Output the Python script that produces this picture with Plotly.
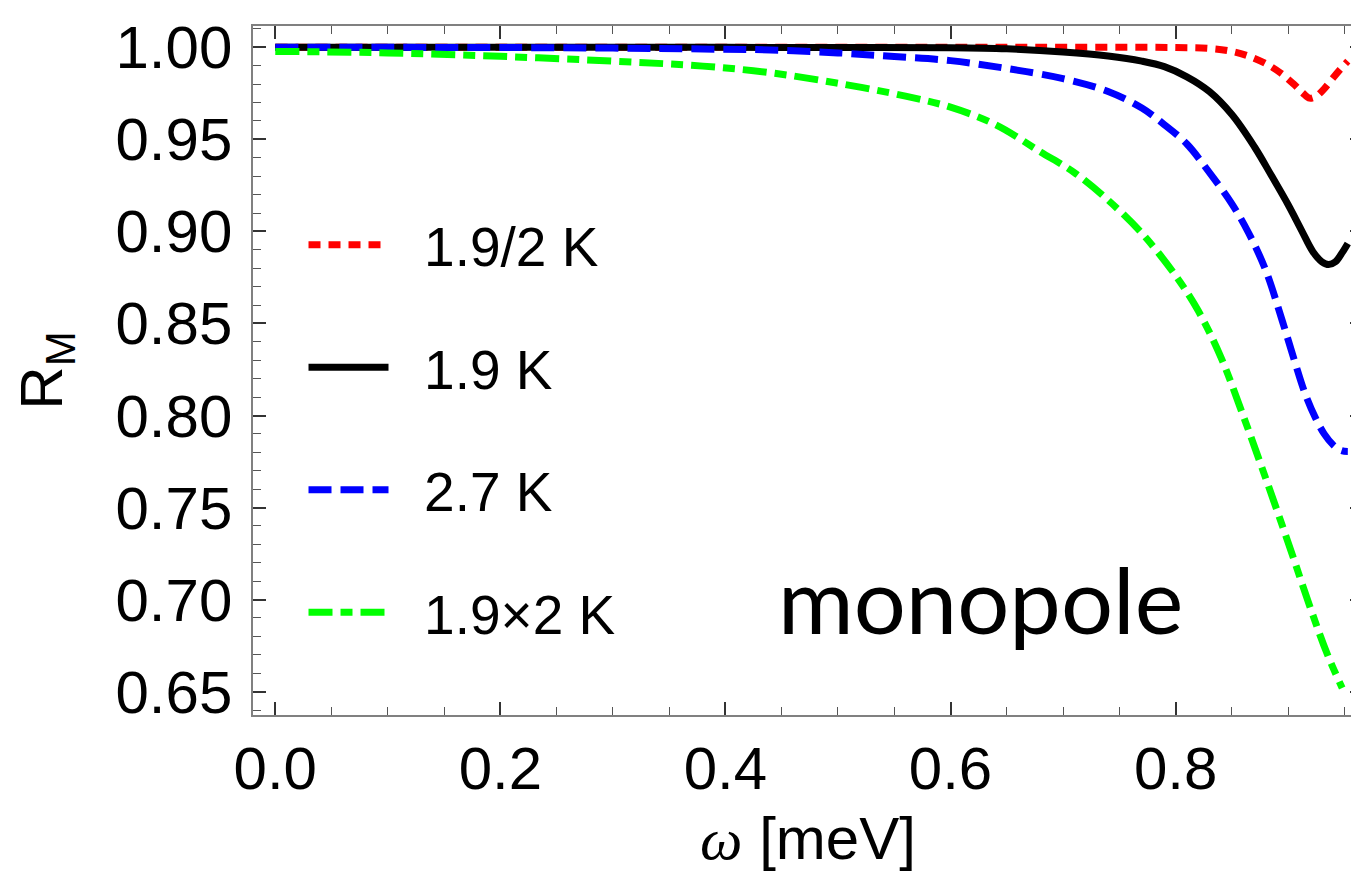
import plotly.graph_objects as go

# ---- data ----
red_x = [0.0, 0.2, 0.4, 0.6, 0.7, 0.8, 0.83, 0.85, 0.865, 0.88, 0.893, 0.905, 0.913, 0.919, 0.925, 0.932, 0.94, 0.947, 0.953]
red_y = [1.0, 1.0, 1.0, 1.0, 1.0, 0.9999, 0.9994, 0.9978, 0.9952, 0.9912, 0.9862, 0.9800, 0.9752, 0.9724, 0.9735,
         0.9775, 0.9835, 0.9885, 0.9925]

black_x = [0.0, 0.2, 0.4, 0.5, 0.6, 0.65, 0.7, 0.74, 0.77, 0.79, 0.81, 0.83, 0.85, 0.87, 0.885, 0.9, 0.912,
           0.922, 0.93, 0.936, 0.942, 0.948, 0.953]
black_y = [1.0, 1.0, 1.0, 0.9999, 0.9998, 0.9992, 0.9975, 0.9953, 0.9925, 0.9895, 0.984, 0.976, 0.9635, 0.946,
           0.9305, 0.9145, 0.9005, 0.889, 0.8835, 0.882, 0.8835, 0.8885, 0.8935]

blue_x = [0.0, 0.1, 0.2, 0.3, 0.38, 0.44, 0.5, 0.55, 0.6, 0.65, 0.7, 0.74, 0.77, 0.79, 0.81, 0.83, 0.85, 0.865,
          0.88, 0.895, 0.906, 0.915, 0.924, 0.932, 0.94, 0.947, 0.953]
blue_y = [1.0, 1.0, 0.9999, 0.9996, 0.9991, 0.9986, 0.9970, 0.9950, 0.9928, 0.9885, 0.983, 0.976, 0.967, 0.958,
          0.9475, 0.932, 0.915, 0.899, 0.879, 0.851, 0.829, 0.812, 0.799, 0.790, 0.784, 0.781, 0.7805]

green_x = [0.0, 0.1, 0.2, 0.3, 0.38, 0.44, 0.5, 0.56, 0.6, 0.64, 0.68, 0.71, 0.74, 0.77, 0.8, 0.82, 0.84, 0.86,
           0.88, 0.9, 0.92, 0.935, 0.948]
green_y = [0.9978, 0.997, 0.9951, 0.9925, 0.9898, 0.9862, 0.9805, 0.9735, 0.9675, 0.958, 0.9432, 0.932, 0.917,
           0.899, 0.876, 0.857, 0.832, 0.800, 0.766, 0.731, 0.695, 0.670, 0.652]

series_names = ["1.9/2 K", "1.9 K", "2.7 K", "1.9\u00d72 K"]
x_ticks = [0.0, 0.2, 0.4, 0.6, 0.8]
y_ticks = [0.65, 0.70, 0.75, 0.80, 0.85, 0.90, 0.95, 1.00]

FONT = "Liberation Sans"

fig = go.Figure()
styles = [
    ("#ff0000", "12px,8px"),
    ("#000000", "solid"),
    ("#0000ff", "23px,9px"),
    ("#00ff00", "24px,8px,12px,8px"),
]
data = [(red_x, red_y), (black_x, black_y), (blue_x, blue_y), (green_x, green_y)]
for i, ((xs, ys), name, (col, dash)) in enumerate(zip(data, series_names, styles)):
    fig.add_trace(go.Scatter(
        x=xs, y=ys, mode="lines", name="\u00a0\u00a0" + name, legendgroup=f"g{i}",
        line=dict(color=col, width=7, dash=dash, shape="spline", smoothing=1.0),
    ))

axis_common = dict(
    showgrid=False, zeroline=False, showline=True, linecolor="#808080", linewidth=1.5,
    mirror="allticks", ticks="inside", ticklen=13, tickwidth=1.5, tickcolor="#333333",
    tickfont=dict(family=FONT, size=60, color="black"),
)

fig.update_xaxes(
    range=[-0.0198, 0.9665], tickvals=x_ticks, ticktext=[f"{v:.1f}" for v in x_ticks],
    minor=dict(dtick=0.05, tick0=0, ticks="inside", ticklen=8, tickwidth=1.2, tickcolor="#555555"),
    title=dict(text='<span style="font-family:Liberation Serif"><i>\u03c9</i></span> [meV]',
               font=dict(family=FONT, size=60, color="black"), standoff=16),
    **axis_common,
)
fig.update_yaxes(
    range=[0.6373, 1.0116], tickvals=y_ticks, ticktext=[f"{v:.2f}" for v in y_ticks],
    minor=dict(dtick=0.01, tick0=0.6, ticks="inside", ticklen=8, tickwidth=1.2, tickcolor="#555555"),
    ticklabelstandoff=7,
    title=dict(text="R<sub>M</sub>", font=dict(family=FONT, size=60, color="black"), standoff=40),
    **axis_common,
)

fig.add_annotation(
    text="monopole", x=0.627, y=0.7007, xref="x", yref="y", showarrow=False,
    xanchor="center", yanchor="middle", font=dict(family="Lato", size=92, color="black"),
)

fig.update_layout(
    width=1359, height=879,
    margin=dict(l=245, r=4, t=18, b=172, autoexpand=False),
    paper_bgcolor="white", plot_bgcolor="white",
    showlegend=True,
    legend=dict(
        x=0.0455, y=0.744, xanchor="left", yanchor="top", bgcolor="rgba(0,0,0,0)",
        font=dict(family=FONT, size=55, color="black"), tracegroupgap=48, itemwidth=80,
    ),
)

fig.write_html("out.html")
